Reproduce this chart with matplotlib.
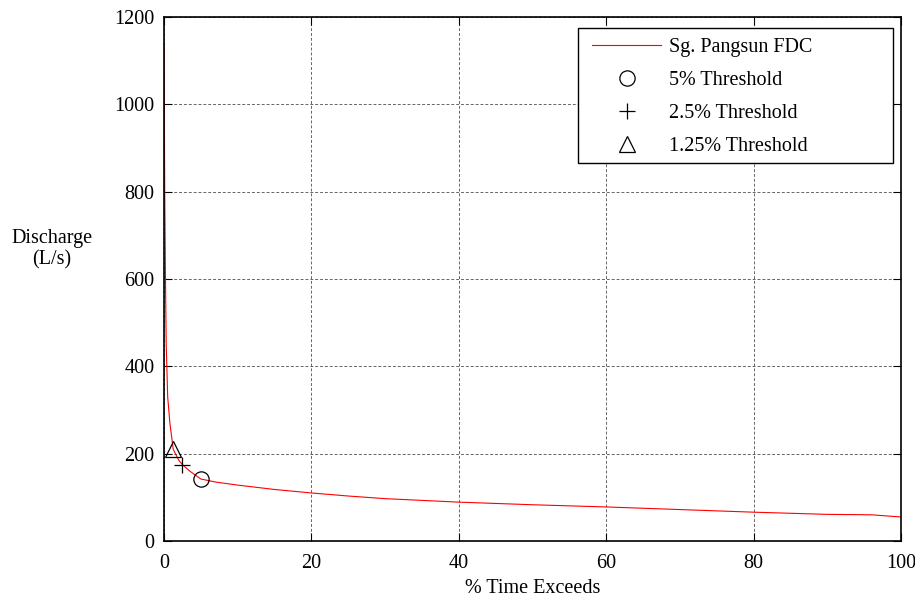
import numpy as np
import matplotlib.pyplot as plt
from matplotlib.patches import Rectangle

plt.rcParams['font.family'] = ['Liberation Serif', 'DejaVu Serif']

# flow duration curve
pct_time = [0, 0.1, 0.2, 0.3, 0.5, 0.8, 1.25, 2, 2.5, 3.5, 5, 7, 10, 15, 20, 25,
            30, 40, 50, 60, 70, 80, 90, 96, 100]
discharge = [1140, 800, 600, 450, 330, 270, 210, 185, 175, 160, 142, 135, 128, 118,
             110, 103, 97, 89, 83, 78, 72, 66, 61, 60, 55]

thr_names = ['5% Threshold', '2.5% Threshold', '1.25% Threshold']
thr_x = [5.0, 2.5, 1.25]
thr_y = [142, 175, 210]
thr_markers = ['o', '+', '^']

fig = plt.figure(figsize=(9.15, 6.0), dpi=100)
ax = fig.add_axes([164 / 915, 59 / 600, 737 / 915, 524 / 600])

ax.plot(pct_time, discharge, color='red', lw=0.8, label='Sg. Pangsun FDC')
for name, x, y, m in zip(thr_names, thr_x, thr_y, thr_markers):
    ax.plot([x], [y], linestyle='none', marker=m, markersize=11 if m != '+' else 12,
            markerfacecolor='none', markeredgecolor='black', markeredgewidth=0.9,
            label=name)

ax.set_xlim(0, 100)
ax.set_ylim(0, 1200)
ax.set_xticks(np.arange(0, 101, 20))
ax.set_yticks(np.arange(0, 1201, 200))
ax.grid(True, color='#666666', linestyle=(0, (3, 2)), lw=0.7)
ax.tick_params(direction='in', top=True, right=True, length=6, labelsize=14.5)
ax.tick_params(axis='x', pad=9)
ax.tick_params(axis='y', pad=7)
for s in ax.spines.values():
    s.set_linewidth(1.2)

ax.set_xlabel('% Time Exceeds', fontsize=14.5, labelpad=5)
ax.set_ylabel('Discharge\n(L/s)', fontsize=14.5, rotation=0, ha='center', va='center')
ax.yaxis.set_label_coords(-0.152, 0.557)

# legend without its own frame, box drawn separately (gnuplot-style wide key)
leg = ax.legend(loc='upper left', bbox_to_anchor=(0.554, 0.998), fontsize=14.5,
                frameon=False, handlelength=3.4, handletextpad=0.4,
                borderpad=0.5, labelspacing=0.68)
ax.add_patch(Rectangle((0.5617, 0.7214), 0.4273, 0.2576, transform=ax.transAxes,
                       facecolor='white', edgecolor='black', lw=1.0, zorder=4))
leg.set_zorder(5)

plt.savefig('out.png', dpi=100)
